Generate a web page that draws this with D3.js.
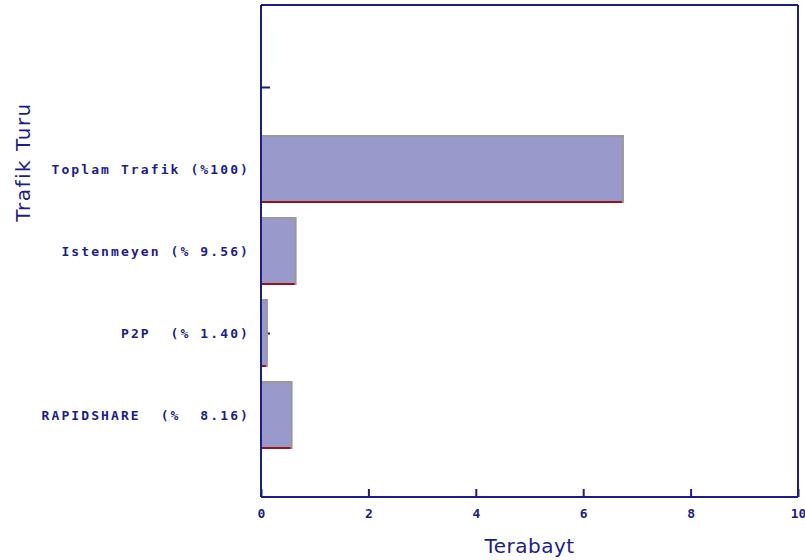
<!DOCTYPE html>
<html><head><meta charset="utf-8">
<script src="https://cdn.jsdelivr.net/npm/d3@7"></script>
<style>
body{margin:0;background:#fff;}
svg{display:block;}
</style></head>
<body>
<svg id="c" width="805" height="560"></svg>
<script>
const categories = ["Toplam Trafik (%100)", "Istenmeyen (% 9.56)", "P2P  (% 1.40)", "RAPIDSHARE  (%  8.16)"];
const values = [6.74, 0.645, 0.11, 0.57];
const xTicks = [0, 2, 4, 6, 8, 10];
const xTitle = "Terabayt";
const yTitle = "Trafik Turu";

const navy = "#1c1c8c";
const svg = d3.select("#c");
const L = 261, R = 798, T = 5, B = 497;

const x = d3.scaleLinear().domain([0, 10]).range([L, R]);
const slots = ["_top", "_empty", ...categories, "_bottom"];
const y = d3.scalePoint().domain(slots).range([T, B]);
const barH = 66;

// y axis (ticks drawn under bars)
const yAxis = svg.append("g").attr("transform", `translate(${L},0)`)
  .call(d3.axisLeft(y).tickValues(["_empty", ...categories]).tickSize(-9).tickPadding(11)
    .tickFormat(d => d.startsWith("_") ? "" : d));
yAxis.select(".domain").remove();
yAxis.selectAll(".tick line").attr("stroke", navy).attr("stroke-width", 2);
yAxis.selectAll(".tick text").attr("fill", navy)
  .style("font-family", "'DejaVu Sans Mono', monospace").style("font-size", "13px")
  .style("font-weight", "bold").style("letter-spacing", "2.1px").style("white-space", "pre");

// bars
const g = svg.append("g");
categories.forEach((c, i) => {
  const cy = y(c);
  const x1 = x(values[i]);
  g.append("rect").attr("x", x(0)).attr("y", cy - barH/2)
    .attr("width", x1 - x(0)).attr("height", barH)
    .attr("fill", "#9999cc").attr("stroke", "#999999").attr("stroke-width", 2);
  g.append("line").attr("x1", x(0)).attr("x2", x1 - 1)
    .attr("y1", cy + barH/2).attr("y2", cy + barH/2)
    .attr("stroke", "#9b1414").attr("stroke-width", 2);
});

// frame
svg.append("line").attr("x1", L).attr("x2", R).attr("y1", T).attr("y2", T).attr("stroke", navy).attr("stroke-width", 2);
svg.append("line").attr("x1", R).attr("x2", R).attr("y1", T).attr("y2", B).attr("stroke", navy).attr("stroke-width", 2);
svg.append("line").attr("x1", L).attr("x2", L).attr("y1", T).attr("y2", B).attr("stroke", navy).attr("stroke-width", 2);

// x axis
const xAxis = svg.append("g").attr("transform", `translate(0,${B})`)
  .call(d3.axisBottom(x).tickValues(xTicks).tickSize(-8).tickPadding(12).tickFormat(d3.format("d")));
xAxis.select(".domain").attr("stroke", navy).attr("stroke-width", 2).attr("d", `M${L},0H${R}`);
xAxis.selectAll(".tick line").attr("stroke", navy).attr("stroke-width", 2);
xAxis.selectAll(".tick text").attr("fill", navy)
  .style("font-family", "'DejaVu Sans Mono', monospace").style("font-size", "13px").style("font-weight", "bold");

// titles
svg.append("text").attr("x", (L + R) / 2).attr("y", 553).attr("text-anchor", "middle")
  .attr("fill", navy).style("font-family", "'DejaVu Sans', sans-serif").style("font-size", "20px")
  .style("letter-spacing", "0.5px").text(xTitle);
svg.append("text").attr("transform", "translate(30,162) rotate(-90)").attr("text-anchor", "middle")
  .attr("fill", navy).style("font-family", "'DejaVu Sans', sans-serif").style("font-size", "20px")
  .style("letter-spacing", "1.5px").text(yTitle);
</script>
</body></html>
